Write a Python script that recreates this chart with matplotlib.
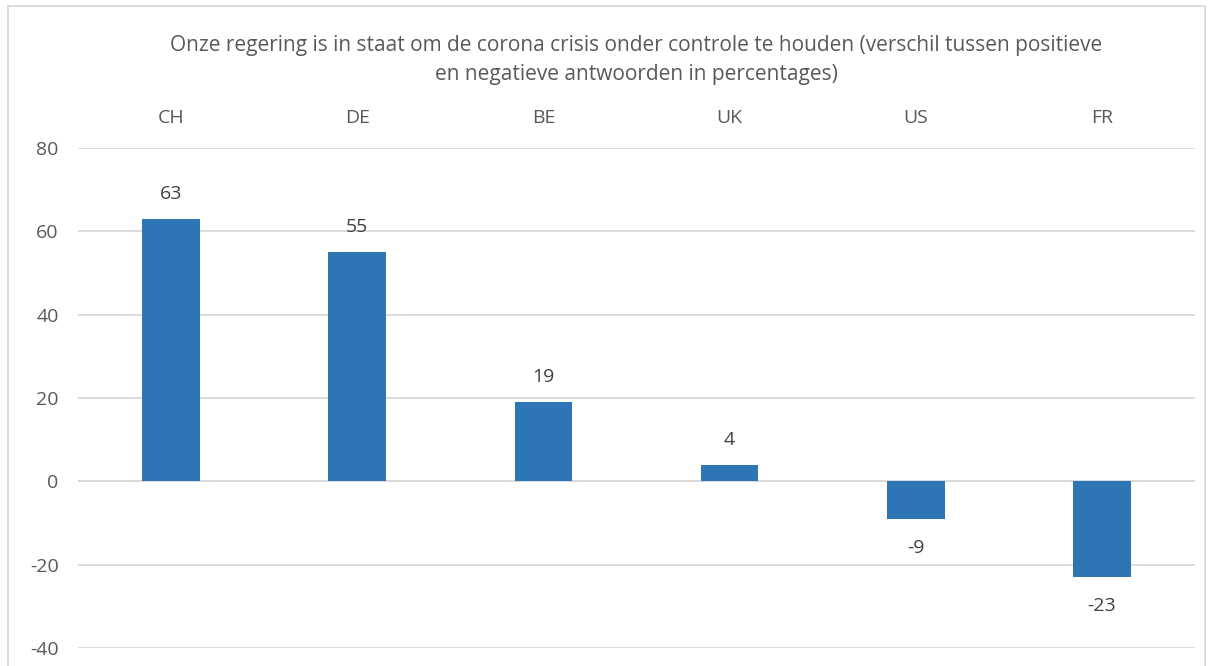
import matplotlib.pyplot as plt
from matplotlib.patches import Rectangle

countries = ["CH", "DE", "BE", "UK", "US", "FR"]
values = [63, 55, 19, 4, -9, -23]
yticks = [-40, -20, 0, 20, 40, 60, 80]
title = ("Onze regering is in staat om de corona crisis onder controle te houden (verschil tussen positieve\n"
         "en negatieve antwoorden in percentages)")

BAR = "#2E75B6"
GRID = "#D9D9D9"
TXT = "#595959"

plt.rcParams['font.family'] = ['Open Sans', 'DejaVu Sans']
plt.rcParams['axes.unicode_minus'] = False

fig = plt.figure(figsize=(12.1, 6.66), dpi=100)
ax = fig.add_axes([78 / 1210, 1 - 648 / 666, (1195 - 78) / 1210, (648 - 148) / 666])

x = range(len(countries))
bars = ax.bar(x, values, width=0.31, color=BAR, zorder=3)

for i, v in enumerate(values):
    off = 18 if v >= 0 else -21
    ax.annotate(str(v), (i, v), xytext=(0, off), textcoords="offset points",
                ha="center", va="center", fontsize=14, color="#404040")

ax.set_xlim(-0.5, len(countries) - 0.5)
ax.set_ylim(-40, 80)
ax.set_yticks(yticks)
ax.yaxis.grid(True, color=GRID, linewidth=1.3, zorder=0)
ax.axhline(0, color=GRID, linewidth=1.3, zorder=1)
ax.xaxis.tick_top()
ax.set_xticks(list(x))
ax.set_xticklabels(countries)
ax.tick_params(axis="x", length=0, pad=15, labelsize=14, labelcolor=TXT)
ax.tick_params(axis="y", length=0, pad=14, labelsize=14, labelcolor=TXT)
for s in ax.spines.values():
    s.set_visible(False)

fig.text(0.5 * (78 + 1195) / 1210, 1 - 60 / 666, title, ha="center", va="center",
         fontsize=15, color=TXT, linespacing=1.45)

# outer chart border
fig.patches.append(Rectangle((8 / 1210, -0.01), 1197 / 1210, 1 - 6 / 666 + 0.01,
                             transform=fig.transFigure, fill=False,
                             edgecolor=GRID, linewidth=1.3))

fig.savefig("out.png", dpi=100)
